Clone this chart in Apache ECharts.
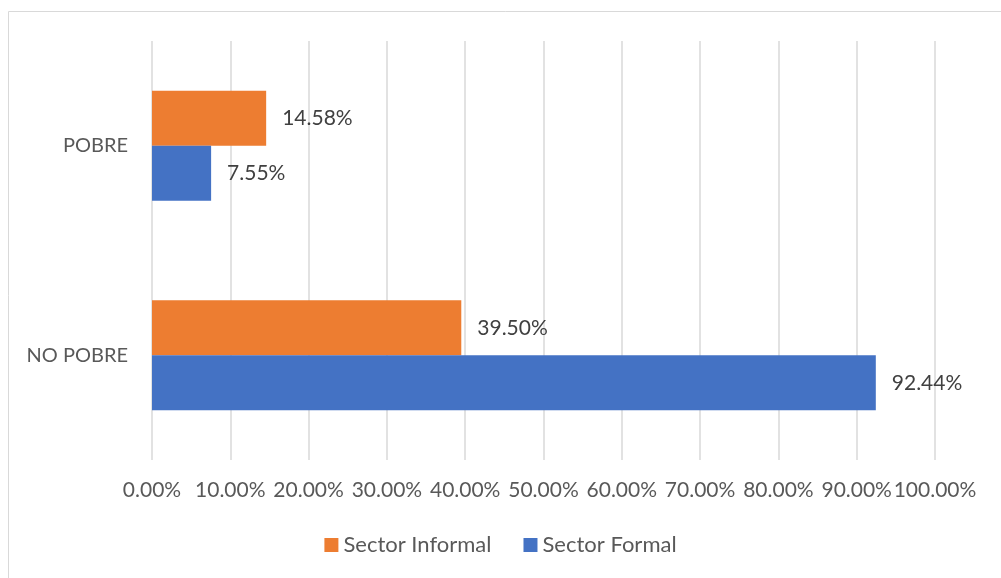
<!DOCTYPE html>
<html>
<head>
<meta charset="utf-8">
<script src="https://cdn.jsdelivr.net/npm/echarts@6/dist/echarts.min.js"></script>
<style>
  html, body { margin: 0; padding: 0; background: #fff; }
  #main { width: 1001px; height: 578px; }
</style>
</head>
<body>
<div id="main"></div>
<script>
var categories = ["NO POBRE", "POBRE"];
var informal = [39.5, 14.58];
var formal = [92.44, 7.55];
var xTicks = [0, 10, 20, 30, 40, 50, 60, 70, 80, 90, 100];

var myChart = echarts.init(document.getElementById("main"));
var pct = function (v) { return Number(v).toFixed(2) + "%"; };

var option = {
  animation: false,
  textStyle: { fontFamily: "Lato" },
  graphic: [
    {
      type: "rect",
      shape: { x: 8.5, y: 11.5, width: 1000, height: 580 },
      style: { fill: "none", stroke: "#d9d9d9", lineWidth: 1 },
      silent: true
    }
  ],
  legend: {
    data: ["Sector Informal", "Sector Formal"],
    bottom: 17,
    left: "center",
    itemWidth: 14,
    itemHeight: 14,
    itemGap: 32,
    icon: "rect",
    textStyle: { color: "#595959", fontSize: 22, fontFamily: "Lato" }
  },
  grid: { left: 152, right: 66, top: 41, bottom: 118 },
  xAxis: {
    type: "value",
    min: xTicks[0],
    max: xTicks[xTicks.length - 1],
    interval: 10,
    axisLine: { show: false },
    axisTick: { show: false },
    splitLine: { lineStyle: { color: "#d9d9d9", width: 1.5 } },
    axisLabel: {
      color: "#595959",
      fontSize: 21,
      margin: 20,
      formatter: pct
    }
  },
  yAxis: {
    type: "category",
    data: categories,
    axisLine: { show: false },
    axisTick: { show: false },
    axisLabel: { color: "#595959", fontSize: 20, margin: 24 }
  },
  series: [
    {
      name: "Sector Informal",
      type: "bar",
      data: informal,
      barWidth: 55,
      barGap: "0%",
      itemStyle: { color: "#ED7D31" },
      label: {
        show: true,
        position: "right",
        distance: 16,
        color: "#404040",
        fontSize: 21,
        formatter: function (p) { return pct(p.value); }
      }
    },
    {
      name: "Sector Formal",
      type: "bar",
      data: formal,
      barWidth: 55,
      barGap: "0%",
      itemStyle: { color: "#4472C4" },
      label: {
        show: true,
        position: "right",
        distance: 16,
        color: "#404040",
        fontSize: 21,
        formatter: function (p) { return pct(p.value); }
      }
    }
  ]
};
myChart.setOption(option);
</script>
</body>
</html>
